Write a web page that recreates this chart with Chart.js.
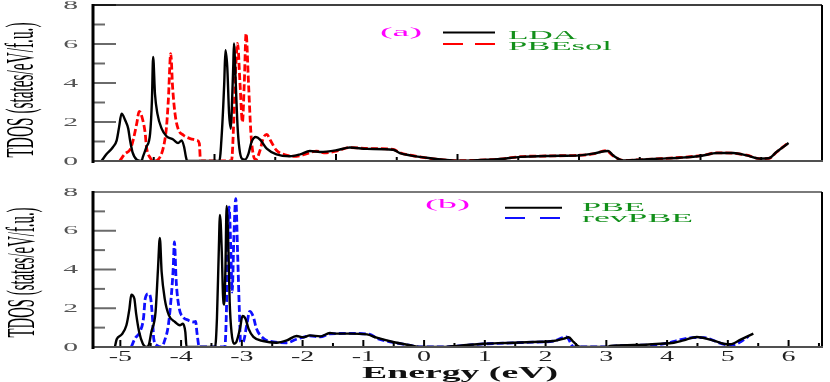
<!DOCTYPE html>
<html><head><meta charset="utf-8">
<script src="https://cdn.jsdelivr.net/npm/chart.js@4.4.0/dist/chart.umd.min.js"></script>
<style>
html,body{margin:0;padding:0;background:#fff;}
#wrap{position:relative;width:830px;height:382px;overflow:hidden;}
canvas{position:absolute;left:0;}
</style>
</head><body>
<div id="wrap">
<canvas id="cTop" width="830" height="175" style="top:0px;width:830px;height:175px"></canvas>
<canvas id="cBot" width="830" height="207" style="top:175px;width:830px;height:207px"></canvas>
</div>
<script>
// ---------- DATA ----------
// Panel (a): LDA and PBEsol (energy, DOS)
const ldaE = [-5.86,-5.78,-5.67,-5.61,-5.57,-5.53,-5.47,-5.42,-5.39,-5.35,-5.28,-5.20,-5.18,-5.12,-5.06,-5.03,-5.01,-4.98,-4.94,-4.87,-4.79,-4.68,-4.60,-4.54,-4.50,-4.47,-4.45,-3.92,-3.88,-3.84,-3.82,-3.79,-3.76,-3.73,-3.71,-3.69,-3.68,-3.65,-3.62,-3.59,-3.55,-3.50,-3.44,-3.39,-3.32,-3.25,-3.14,-2.98,-2.76,-2.59,-2.43,-2.26,-1.99,-1.77,-1.49,-1.06,-0.95,-0.78,-0.51,-0.23,-0.01,0.26,0.70,1.03,1.52,2.02,2.23,2.48,2.56,2.73,3.00,3.33,3.66,4.02,4.27,4.54,4.76,4.98,5.12,5.25,5.45];
const ldaD = [0,0.34,0.72,1.06,1.75,2.43,2.09,1.66,1.06,0.46,0.07,0,0.2,0.72,1.4,3.1,5.34,3.45,2.43,1.66,1.27,1.1,0.92,1.06,0.72,0.2,0,0,1.4,3.97,5.68,4.83,2.43,1.66,3.12,5.0,6.03,3.97,1.75,0.63,0.12,0.07,0.38,0.98,1.23,1.1,0.63,0.34,0.24,0.34,0.51,0.46,0.55,0.69,0.62,0.58,0.41,0.29,0.17,0.07,0.02,0.03,0.10,0.21,0.26,0.29,0.38,0.51,0.29,0.03,0.07,0.12,0.17,0.27,0.41,0.41,0.29,0.12,0.14,0.46,0.92];
const pbesolE = [-5.56,-5.47,-5.39,-5.34,-5.28,-5.24,-5.18,-5.14,-5.12,-5.06,-5.00,-4.92,-4.84,-4.79,-4.76,-4.72,-4.69,-4.65,-4.60,-4.51,-4.40,-4.29,-4.25,-4.23,-3.72,-3.68,-3.65,-3.62,-3.58,-3.54,-3.51,-3.48,-3.44,-3.40,-3.36,-3.32,-3.25,-3.20,-3.14,-3.08,-2.98,-2.81,-2.65,-2.48,-2.32,-2.20,-2.00,-1.77,-1.49,-1.06,-0.95,-0.78,-0.51,-0.23,0.00,0.26,0.70,1.03,1.52,2.02,2.23,2.45,2.56,2.73,3.00,3.33,3.66,4.02,4.27,4.54,4.76,4.98,5.12,5.25,5.45];
const pbesolD = [0,0.38,0.58,1.06,1.92,2.55,2.09,1.4,0.72,0.17,0,0.1,0.72,1.75,3.12,5.51,3.8,2.43,1.66,1.32,1.15,1.06,0.9,0,0,2.26,4.83,6.03,3.97,2.0,3.97,6.54,3.97,1.4,0.29,0.07,0.55,1.15,1.37,1.06,0.55,0.29,0.24,0.38,0.51,0.42,0.5,0.69,0.64,0.6,0.43,0.3,0.16,0.06,0.02,0.03,0.10,0.22,0.26,0.30,0.36,0.53,0.27,0.03,0.06,0.12,0.18,0.28,0.42,0.40,0.30,0.12,0.13,0.45,0.95];
// Panel (b): PBE and revPBE
const pbeE = [-5.09,-5.06,-4.98,-4.90,-4.85,-4.82,-4.77,-4.74,-4.69,-4.63,-4.57,-4.53,-4.49,-4.42,-4.38,-4.35,-4.32,-4.27,-4.20,-4.10,-4.02,-3.97,-3.93,-3.91,-3.44,-3.41,-3.38,-3.36,-3.33,-3.31,-3.29,-3.27,-3.25,-3.22,-3.20,-3.17,-3.13,-3.09,-3.03,-2.99,-2.94,-2.89,-2.81,-2.65,-2.43,-2.26,-2.10,-1.99,-1.88,-1.71,-1.55,-1.44,-1.22,-0.94,-0.78,-0.51,-0.23,-0.07,0.26,0.59,0.98,1.36,1.80,2.13,2.30,2.38,2.46,2.57,3.01,3.06,3.45,3.89,4.11,4.27,4.49,4.71,4.93,5.04,5.21,5.42];
const pbeD = [0,0.4,0.64,1.12,1.98,2.7,2.5,1.72,0.77,0.17,0,0.12,0.77,1.81,4.04,5.63,3.87,2.5,1.63,1.29,1.12,1.2,0.77,0,0,1.46,4.9,6.82,4.9,2.67,2.19,4.04,7.28,4.9,2.32,0.77,0.17,0.26,0.95,1.6,1.46,0.95,0.52,0.31,0.22,0.34,0.57,0.5,0.6,0.55,0.72,0.69,0.69,0.65,0.48,0.26,0.09,0,0,0.07,0.17,0.21,0.26,0.31,0.43,0.5,0.26,0,0,0.05,0.1,0.17,0.22,0.34,0.52,0.38,0.17,0.14,0.38,0.69];
const revpbeE = [-4.82,-4.76,-4.68,-4.62,-4.59,-4.54,-4.50,-4.47,-4.45,-4.40,-4.32,-4.27,-4.21,-4.16,-4.13,-4.11,-4.08,-4.03,-3.97,-3.88,-3.80,-3.76,-3.74,-3.70,-3.28,-3.25,-3.23,-3.21,-3.18,-3.16,-3.13,-3.10,-3.07,-3.04,-3.02,-2.98,-2.92,-2.87,-2.81,-2.76,-2.65,-2.48,-2.26,-2.10,-1.88,-1.71,-1.55,-1.22,-0.89,-0.78,-0.51,-0.23,-0.07,0.26,0.59,0.98,1.36,1.80,2.13,2.34,2.42,2.45,3.01,3.06,3.89,4.44,4.60,4.99,5.10,5.23,5.34];
const revpbeD = [0,0.43,0.77,1.46,2.5,2.75,2.5,1.46,0.43,0.09,0,0.34,1.12,2.67,4.04,5.42,3.36,1.98,1.55,1.38,1.29,1.32,0.77,0,0,2.32,5.77,7.23,4.9,2.84,5.77,7.66,4.9,1.81,0.26,0.26,1.12,1.84,1.55,0.95,0.46,0.26,0.22,0.4,0.57,0.52,0.68,0.7,0.65,0.45,0.24,0.08,0,0,0.06,0.16,0.2,0.25,0.3,0.52,0.17,0,0,0.03,0.14,0.48,0.48,0.12,0.12,0.31,0.55];

const yTickValues = [0,2,4,6,8];
const yTickLabels = ['0','2','4','6','8'];
const yMinorValues = [1,3,5,7];
const xTickValuesB = [-5,-4,-3,-2,-1,0,1,2,3,4,5,6];
const xTickLabelsB = ['-5','-4','-3','-2','-1','0','1','2','3','4','5','6'];
const xMinorValuesB = [-4.5,-3.5,-2.5,-1.5,-0.5,0.5,1.5,2.5,3.5,4.5,5.5,6.5];
const xMajorValuesA = [-4,-2,0,2,4];
const xMinorValuesA = [-5,-3,-1,1,3,5];
const yTitle = 'TDOS (states/eV/f.u.)';
const xTitle = 'Energy (eV)';
const seriesNamesA = ['LDA','PBEsol'];
const seriesNamesB = ['PBE','revPBE'];
const panelLabels = ['(a)','(b)'];

// ---------- HELPERS ----------
const SERIF = '"Liberation Serif","Times New Roman",serif';
function pts(xs, ys){ return xs.map((x,i)=>({x:x, y:ys[i]})); }
function txt(ctx, s, x, y, o){
  ctx.save();
  ctx.font = (o.weight||'normal')+' '+o.size+'px '+SERIF;
  ctx.fillStyle = o.color||'#000';
  ctx.textBaseline = o.baseline||'middle';
  ctx.textAlign = 'left';
  const w = ctx.measureText(s).width;
  const sc = o.width ? o.width/w : (o.sx||1);
  const W = w*sc;
  const x0 = o.align==='right' ? x-W : (o.align==='center' ? x-W/2 : x);
  ctx.translate(x0, y); ctx.scale(sc, 1);
  ctx.fillText(s, 0, 0);
  ctx.restore();
}
function line(ctx, x1,y1,x2,y2,color,w,dash){
  ctx.save(); ctx.beginPath(); ctx.strokeStyle=color; ctx.lineWidth=w;
  ctx.setLineDash(dash||[]); ctx.moveTo(x1,y1); ctx.lineTo(x2,y2); ctx.stroke(); ctx.restore();
}

const framePlugin = {
  id:'frame',
  beforeDatasetsDraw(chart){
    const sp = chart.options.plugins.frame; if(!sp) return;
    const ctx = chart.ctx, a = chart.chartArea, xs = chart.scales.x, ys = chart.scales.y;
    yTickValues.forEach(v=>{ const py=ys.getPixelForValue(v); line(ctx,a.left,py,a.left+23,py,'#6a6a6a',2); });
    yMinorValues.forEach(v=>{ const py=ys.getPixelForValue(v); line(ctx,a.left,py,a.left+12,py,'#6a6a6a',2); });
  },
  afterDatasetsDraw(chart){
    const sp = chart.options.plugins.frame; if(!sp) return;
    const ctx = chart.ctx, a = chart.chartArea, xs = chart.scales.x, ys = chart.scales.y;
    sp.xMajor.forEach(v=>{ const px=xs.getPixelForValue(v); line(ctx,px,a.bottom,px,a.bottom-7,'#000',2); });
    sp.xMinor.forEach(v=>{ const px=xs.getPixelForValue(v); line(ctx,px,a.bottom,px,a.bottom-4,'#000',2); });
    line(ctx,a.left,a.top,a.right,a.top,sp.topColor,sp.topWidth);
    line(ctx,a.right,a.top,a.right,a.bottom+1,'#000',2);
    line(ctx,a.left,a.bottom,a.right+1,a.bottom,'#505050',2);
    line(ctx,a.left,a.top-1,a.left,a.bottom+2,'#000',3);
  },
  afterDraw(chart){
    const sp = chart.options.plugins.frame; if(!sp) return;
    const ctx = chart.ctx, a = chart.chartArea, xs = chart.scales.x, ys = chart.scales.y;
    // y tick labels
    yTickValues.forEach((v,i)=>{ txt(ctx, yTickLabels[i], 78, ys.getPixelForValue(v), {size:13.5, sx:2.2, align:'right', color:'#555'}); });
    // y title rotated and condensed
    ctx.save();
    ctx.translate(sp.titleX, sp.titleY); ctx.rotate(-Math.PI/2);
    ctx.font = '15.5px '+SERIF;
    const w = ctx.measureText(yTitle).width;
    ctx.scale(sp.titleLen/w, 2.55);
    ctx.textAlign='center'; ctx.textBaseline='middle'; ctx.fillStyle='#000';
    ctx.fillText(yTitle,0,0);
    ctx.restore();
    // legend
    const L = sp.legend;
    txt(ctx, L.label, L.labX, L.labY, {size:13, width:L.labW, color:'#ff00ff'});
    line(ctx, L.lx1, L.y1, L.lx2, L.y1, '#000', 2);
    line(ctx, L.lx1, L.y2, L.lx2, L.y2, L.color2, 2, L.dash);
    txt(ctx, L.names[0], L.tx, L.b1, {size:13, width:L.w1, color:'#12901a', baseline:'alphabetic'});
    txt(ctx, L.names[1], L.tx, L.b2, {size:13, width:L.w2, color:'#12901a', baseline:'alphabetic'});
    // x labels
    if(sp.xLabels){
      xTickValuesB.forEach((v,i)=>{ txt(ctx, xTickLabelsB[i], xs.getPixelForValue(v), 182.5, {size:14, sx:2.0, align:'center', color:'#222'}); });
      txt(ctx, xTitle, 362, 203, {size:17, weight:'bold', width:196, color:'#111', baseline:'alphabetic'});
    }
  }
};

function makeChart(id, datasets, xmin, xmax, padding, frame){
  return new Chart(document.getElementById(id), {
    type:'line',
    data:{datasets:datasets},
    options:{
      responsive:false, animation:false, devicePixelRatio:1,
      layout:{padding:padding},
      parsing:true,
      elements:{point:{radius:0}, line:{cubicInterpolationMode:'monotone', borderCapStyle:'butt', borderJoinStyle:'round'}},
      plugins:{legend:{display:false}, tooltip:{enabled:false}, frame:frame},
      scales:{
        x:{type:'linear', min:xmin, max:xmax, display:false},
        y:{type:'linear', min:0, max:8, display:false}
      }
    },
    plugins:[framePlugin]
  });
}

makeChart('cTop', [
  {label:seriesNamesA[0], data:pts(ldaE, ldaD), borderColor:'#000', borderWidth:2.4, fill:false},
  {label:seriesNamesA[1], data:pts(pbesolE, pbesolD), borderColor:'#ff0000', borderWidth:2.8, borderDash:[7,3], fill:false}
], -6, 6, {left:93, right:8, top:5, bottom:14}, {
  xMajor:xMajorValuesA, xMinor:xMinorValuesA, topColor:'#000', topWidth:1.5,
  titleX:23, titleY:90, titleLen:135, xLabels:false,
  legend:{label:panelLabels[0], labX:380, labY:33, labW:42, lx1:443, lx2:495, y1:32.5, y2:44, color2:'#ff0000', dash:[20,12],
          names:seriesNamesA, tx:508, b1:38.5, b2:49.5, w1:69, w2:104}
});

makeChart('cBot', [
  {label:seriesNamesB[0], data:pts(pbeE, pbeD), borderColor:'#000', borderWidth:2.4, fill:false},
  {label:seriesNamesB[1], data:pts(revpbeE, revpbeD), borderColor:'#1010ff', borderWidth:2.8, borderDash:[7,3], fill:false}
], -5.45, 6.55, {left:93, right:8, top:17, bottom:35}, {
  xMajor:xTickValuesB, xMinor:xMinorValuesB, topColor:'#7a7a7a', topWidth:2,
  titleX:24, titleY:97.5, titleLen:130, xLabels:true,
  legend:{label:panelLabels[1], labX:425, labY:30, labW:45, lx1:505, lx2:562, y1:32.7, y2:43, color2:'#1010ff', dash:[20,15],
          names:seriesNamesB, tx:582, b1:36, b2:47, w1:63, w2:111}
});
</script>
</body></html>
